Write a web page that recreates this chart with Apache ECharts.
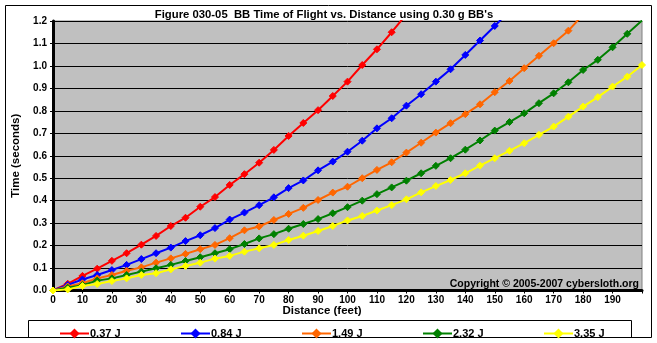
<!DOCTYPE html>
<html><head><meta charset="utf-8">
<script src="https://cdn.jsdelivr.net/npm/echarts@6/dist/echarts.min.js"></script>
<style>html,body{margin:0;padding:0;background:#fff}#c{width:657px;height:343px}</style>
</head><body><div id="c"></div>
<script>
const distances = [0,5,10,15,20,25,30,35,40,45,50,55,60,65,70,75,80,85,90,95,100,105,110,115,120,125,130,135,140,145,150,155,160,165,170,175,180,185,190,195,200];
const seriesNames = ['0.37 J','0.84 J','1.49 J','2.32 J','3.35 J'];
const t037 = [0,0.03,0.065,0.097,0.132,0.166,0.204,0.243,0.287,0.324,0.373,0.416,0.47,0.518,0.569,0.626,0.688,0.746,0.803,0.866,0.93,1.004,1.074,1.15,1.23];
const t084 = [0,0.025,0.049,0.069,0.091,0.114,0.140,0.166,0.191,0.220,0.246,0.278,0.316,0.347,0.380,0.415,0.456,0.490,0.535,0.574,0.618,0.667,0.722,0.767,0.823,0.874,0.930,0.985,1.049,1.113,1.178,1.245];
const t149 = [0,0.018,0.032,0.054,0.069,0.088,0.103,0.124,0.143,0.163,0.184,0.203,0.233,0.268,0.285,0.314,0.341,0.368,0.403,0.436,0.462,0.500,0.537,0.571,0.614,0.658,0.703,0.745,0.785,0.829,0.883,0.933,0.990,1.045,1.101,1.157,1.228];
const t232 = [0,0.012,0.024,0.044,0.054,0.069,0.084,0.099,0.114,0.131,0.148,0.166,0.184,0.207,0.232,0.251,0.275,0.296,0.318,0.344,0.371,0.400,0.429,0.459,0.489,0.522,0.555,0.589,0.627,0.668,0.712,0.750,0.789,0.834,0.878,0.927,0.982,1.027,1.083,1.143,1.202];
const t335 = [0,0.005,0.02,0.029,0.042,0.054,0.069,0.077,0.094,0.109,0.124,0.142,0.154,0.173,0.188,0.203,0.225,0.244,0.265,0.287,0.312,0.332,0.356,0.380,0.406,0.437,0.465,0.492,0.522,0.556,0.589,0.622,0.656,0.693,0.730,0.774,0.819,0.861,0.908,0.952,1.004];
const colors = ['#FF0000','#0000FF','#FF6600','#008000','#FFFF00'];
const titleText = "Figure 030-05  BB Time of Flight vs. Distance using 0.30 g BB's";
const xTitle = 'Distance (feet)';
const yTitle = 'Time (seconds)';
const copyright = 'Copyright \u00A9 2005-2007 cybersloth.org';

const allData = [t037,t084,t149,t232,t335];
const FONT = 'Liberation Sans, Arial, sans-serif';
const chart = echarts.init(document.getElementById('c'), null, {renderer:'canvas'});
const legendLefts = [54,175,296,417,538];
chart.setOption({
  animation:false,
  backgroundColor:'#fff',
  grid:{left:53,top:21,width:589,height:269.5,show:true,backgroundColor:'#C0C0C0',borderColor:'#808080',borderWidth:1,containLabel:false},
  xAxis:{type:'value',min:0,max:200,interval:10,
    axisLine:{show:true,onZero:false,lineStyle:{color:'#000',width:3}},
    axisTick:{show:true,length:3,lineStyle:{color:'#000',width:1}},
    axisLabel:{color:'#000',fontFamily:FONT,fontWeight:'bold',fontSize:10,margin:5,
      formatter:v=> v===200 ? '' : String(v)},
    splitLine:{show:false}},
  yAxis:{type:'value',min:0,max:1.2,interval:0.1,
    name:yTitle,nameLocation:'middle',nameGap:30,nameRotate:90,
    nameTextStyle:{color:'#000',fontFamily:FONT,fontWeight:'bold',fontSize:11.5},
    axisLine:{show:true,lineStyle:{color:'#000',width:3}},
    axisTick:{show:true,length:3,lineStyle:{color:'#000',width:1}},
    axisLabel:{color:'#000',fontFamily:FONT,fontWeight:'bold',fontSize:10,margin:6,
      formatter:v=>v.toFixed(1)},
    splitLine:{show:true,lineStyle:{color:'#000',width:1}}},
  legend: seriesNames.map((n,i)=>({data:[n],left:legendLefts[i],top:323,itemWidth:29,itemHeight:9,itemGap:2,
    textStyle:{color:'#000',fontFamily:FONT,fontWeight:'bold',fontSize:11,padding:[0,0,0,-4]}})),
  series: allData.map((arr,i)=>({
    name:seriesNames[i],type:'line',
    data:arr.map((v,k)=>[distances[k],v]),
    symbol:'diamond',symbolSize:7,showSymbol:true,
    lineStyle:{color:colors[i],width:2},
    itemStyle:{color:colors[i],borderColor:colors[i],borderWidth:1},
    clip:true,z:2+i})),
  graphic:[
    {type:'rect',shape:{x:5.5,y:5.5,width:646,height:332},style:{fill:null,stroke:'#000',lineWidth:1},silent:true},
    {type:'rect',shape:{x:28.5,y:320.5,width:603,height:17},style:{fill:null,stroke:'#000',lineWidth:1},silent:true},
    {type:'text',x:324,y:15,style:{text:titleText,fill:'#000',font:'bold 11.3px '+FONT,textAlign:'center',textVerticalAlign:'middle'}},
    {type:'text',x:322,y:311,style:{text:xTitle,fill:'#000',font:'bold 11.5px '+FONT,textAlign:'center',textVerticalAlign:'middle'}},
    {type:'text',x:639,y:284,z:100,style:{text:copyright,fill:'#000',font:'bold 10.5px '+FONT,textAlign:'right',textVerticalAlign:'middle'}}
  ]
});
</script></body></html>
